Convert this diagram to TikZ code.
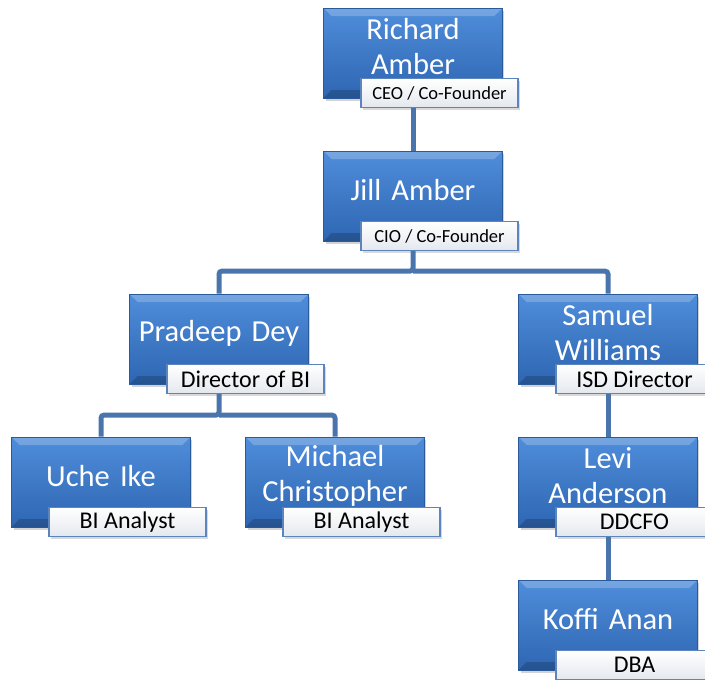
\documentclass[tikz,border=0pt]{standalone}
\usepackage{fontspec}
\setmainfont{Carlito}
\usepackage{tikz}
\usetikzlibrary{positioning, shadows, calc}

\definecolor{boxtop}{HTML}{4F8DDA}
\definecolor{boxbot}{HTML}{2E66B2}
\definecolor{boxedge}{HTML}{2B5A9A}
\definecolor{linkblue}{HTML}{4A74AC}
\definecolor{roleedge}{HTML}{5C85BD}
\definecolor{rolebot}{HTML}{E4E8EE}

\begin{document}
\begin{tikzpicture}[node distance=143pt,
    person/.style={draw=boxedge, line width=0.8pt, top color=boxtop, bottom color=boxbot,
        minimum width=175pt, minimum height=90pt, text width=172pt, align=center,
        text=white, font=\fontsize{30.5}{35}\selectfont,
        execute at end node={\endgraf\kern12pt},
        drop shadow={shadow xshift=2pt, shadow yshift=-3pt, opacity=.35},
        path picture={
            \fill[white,opacity=.22] (path picture bounding box.north west) -- (path picture bounding box.north east)
                -- ([shift={(-8pt,-8pt)}]path picture bounding box.north east) -- ([shift={(8pt,-8pt)}]path picture bounding box.north west) -- cycle;
            \fill[black,opacity=.18] (path picture bounding box.south west) -- (path picture bounding box.south east)
                -- ([shift={(-8pt,8pt)}]path picture bounding box.south east) -- ([shift={(8pt,8pt)}]path picture bounding box.south west) -- cycle;
        }},
    role/.style={draw=roleedge, line width=1.2pt, top color=white, bottom color=rolebot,
        minimum width=157pt, minimum height=29pt, inner sep=1pt,
        drop shadow={shadow xshift=1.5pt, shadow yshift=-2pt, opacity=.3}},
    link/.style={draw=linkblue, line width=5pt, rounded corners=3pt}]

    \useasboundingbox (0,0) rectangle (705pt,-680pt);

    % people
    \node[person] (richard) at (413pt,-53pt) {Richard\\Amber};
    \node[person] (jill) [below of=richard] {Jill Amber};
    \node[person] (pradeep) [below of=jill, xshift=-194pt] {Pradeep Dey};
    \node[person] (samuel) [below of=jill, xshift=195pt] {Samuel\\Williams};
    \node[person] (uche) [below of=pradeep, xshift=-118pt] {Uche Ike};
    \node[person] (michael) [below of=pradeep, xshift=116pt] {Michael\\Christopher};
    \node[person] (levi) [below of=samuel] {Levi\\Anderson};
    \node[person] (koffi) [below of=levi] {Koffi Anan};

    % roles
    \foreach \who/\what/\sz in {richard/{CEO / Co-Founder}/18.5, jill/{CIO / Co-Founder}/18.5,
        pradeep/{Director of BI}/24, samuel/{ISD Director}/24, uche/{BI Analyst}/24,
        michael/{BI Analyst}/24, levi/DDCFO/24, koffi/DBA/24}
        \node[role, font=\fontsize{\sz}{\sz}\selectfont] (\who-role) at ([xshift=26.5pt,yshift=-40pt]\who.center) {\what};

    % links
    \coordinate (jbar) at ([yshift=-20pt]jill.south |- jill-role.south);
    \coordinate (pbar) at ([yshift=-21pt]pradeep.south |- pradeep-role.south);
    \path[link] (richard.south |- richard-role.south) -- (jill.north);
    \path[link] (jill.south |- jill-role.south) -- (jbar) -| (pradeep.north);
    \path[link] (jbar) -| (samuel.north);
    \path[link] (pradeep.south |- pradeep-role.south) -- (pbar) -| (uche.north);
    \path[link] (pbar) -| (michael.north);
    \path[link] (samuel.south |- samuel-role.south) -- (levi.north);
    \path[link] (levi.south |- levi-role.south) -- (koffi.north);
\end{tikzpicture}
\end{document}
